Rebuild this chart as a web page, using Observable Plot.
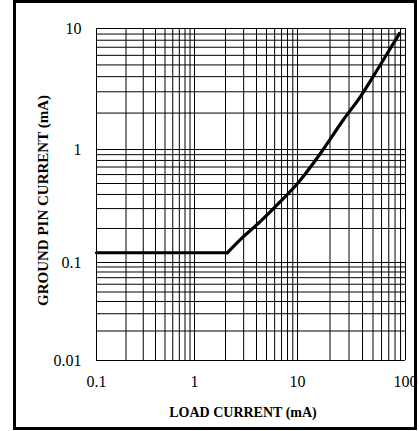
<!DOCTYPE html>
<html>
<head>
<meta charset="utf-8">
<script src="https://cdn.jsdelivr.net/npm/d3@7"></script>
<script src="https://cdn.jsdelivr.net/npm/@observablehq/plot@0.6"></script>
<style>
  html, body { margin: 0; padding: 0; background: white; overflow: hidden; }
  #wrap { position: relative; width: 419px; height: 431px; }
  #border { position: absolute; left: 13px; top: 0px; width: 404px; height: 430px; box-sizing: border-box; border: 3px solid #000; pointer-events: none; }
  svg { display: block; }
</style>
</head>
<body>
<div id="wrap"><div id="border"></div></div>
<script>
// Data
const loadCurrent = [0.1, 2.09, 2.8, 4.37, 6.84, 10, 16.3, 26.7, 38.3, 58.7, 88];
const groundPinCurrent = [0.122, 0.122, 0.16, 0.231, 0.347, 0.50, 0.922, 1.77, 2.74, 5.04, 9.1];

const xDecades = [0.1, 1, 10, 100];
const yDecades = [0.01, 0.1, 1, 10];
const xTickLabels = ["0.1", "1", "10", "100"];
const yTickLabels = ["0.01", "0.1", "1", "10"];
const minorMultipliers = [1, 2, 3, 4, 5, 6, 7, 8, 9];
const xTitle = "LOAD CURRENT (mA)";
const yTitle = "GROUND PIN CURRENT (mA)";

const xGrid = xDecades.slice(0, -1).flatMap(d => minorMultipliers.map(m => +(d * m).toPrecision(3))).concat([xDecades[xDecades.length - 1]]);
const yGrid = yDecades.slice(0, -1).flatMap(d => minorMultipliers.map(m => +(d * m).toPrecision(3))).concat([yDecades[yDecades.length - 1]]);

const points = loadCurrent.map((x, i) => ({x, y: groundPinCurrent[i]}));
const flatPart = points.slice(0, 2);
const risingPart = points.slice(1);

const serif = "'Liberation Serif', 'Times New Roman', serif";

const chart = Plot.plot({
  width: 419,
  height: 431,
  marginTop: 28,
  marginBottom: 71,
  marginLeft: 96,
  marginRight: 14,
  style: {fontFamily: serif, fontSize: "16px", background: "transparent", color: "#000"},
  x: {type: "log", domain: xDecades, range: [96, 194, 297, 405]},
  y: {type: "log", domain: yDecades, range: [360, 262, 149, 28]},
  marks: [
    Plot.ruleX(xGrid, {stroke: "#000", strokeWidth: 1}),
    Plot.ruleY(yGrid, {stroke: "#000", strokeWidth: 1}),
    Plot.axisX(xDecades, {tickSize: 0, tickPadding: 15, tickFormat: d => xTickLabels[xDecades.indexOf(d)], label: null, fontSize: 16}),
    Plot.axisY(yDecades, {tickSize: 0, tickPadding: 15, tickFormat: d => yTickLabels[yDecades.indexOf(d)], label: null, fontSize: 16}),
    Plot.line(flatPart, {x: "x", y: "y", stroke: "#000", strokeWidth: 3.2}),
    Plot.line(risingPart, {x: "x", y: "y", stroke: "#000", strokeWidth: 3.2, curve: "monotone-x"}),
    Plot.text([xTitle], {frameAnchor: "bottom", dy: 56, dx: -8, fontWeight: "bold", fontSize: 14}),
    Plot.text([yTitle], {frameAnchor: "left", dx: -53, dy: 6, rotate: -90, textAnchor: "middle", fontWeight: "bold", fontSize: 15})
  ]
});
document.getElementById("wrap").prepend(chart);
</script>
</body>
</html>
